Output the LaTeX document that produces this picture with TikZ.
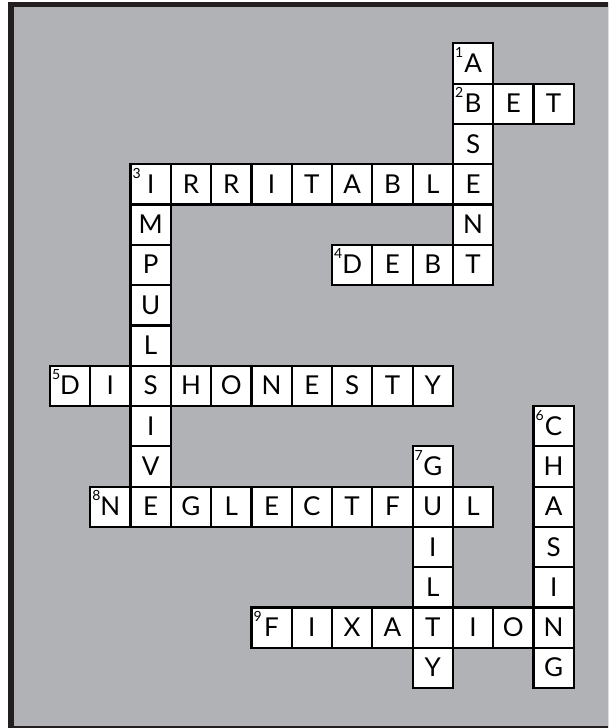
\documentclass[tikz,border=0pt]{standalone}
\usepackage{fontspec}
\setmainfont{Lato}
\definecolor{panel}{RGB}{177,178,182}
\definecolor{framec}{RGB}{35,31,32}
\begin{document}
\begin{tikzpicture}[x=1pt,y=-1pt,
  cell/.style={draw=black, line width=2.2pt, fill=white, minimum size=40.3pt,
    inner sep=0pt, text height=18pt, text depth=0pt,
    font=\fontsize{26}{30}\selectfont},
  num/.style={anchor=north west, inner sep=0pt,
    font=\fontsize{14}{16}\selectfont, xshift=3pt, yshift=-5pt}]
\useasboundingbox (0,0) rectangle (608,728);
\fill[white] (0,0) rectangle (608,728);
\begin{scope}
  \clip (0,0) rectangle (608,728);
  \fill[framec] (8.3,1.8) rectangle (640,760);
  \fill[panel] (14,7.4) rectangle (640,726);
\end{scope}
\foreach \c/\r/\l in {
  8/0/A,
  8/1/B, 9/1/E, 10/1/T,
  8/2/S,
  0/3/I, 1/3/R, 2/3/R, 3/3/I, 4/3/T, 5/3/A, 6/3/B, 7/3/L, 8/3/E,
  0/4/M, 8/4/N,
  0/5/P, 5/5/D, 6/5/E, 7/5/B, 8/5/T,
  0/6/U,
  0/7/L,
  -2/8/D, -1/8/I, 0/8/S, 1/8/H, 2/8/O, 3/8/N, 4/8/E, 5/8/S, 6/8/T, 7/8/Y,
  0/9/I, 10/9/C,
  0/10/V, 7/10/G, 10/10/H,
  -1/11/N, 0/11/E, 1/11/G, 2/11/L, 3/11/E, 4/11/C, 5/11/T, 6/11/F, 7/11/U, 8/11/L, 10/11/A,
  7/12/I, 10/12/S,
  7/13/L, 10/13/I,
  3/14/F, 4/14/I, 5/14/X, 6/14/A, 7/14/T, 8/14/I, 9/14/O, 10/14/N,
  7/15/Y, 10/15/G} {
  \pgfmathtruncatemacro{\k}{\c+2}
  \node[cell] (cell\r-\k) at ({130.5+40.3*(\c+0.5)},{43.3+40.3*(\r+0.5)}) {\l};
}
\foreach \name/\n in {cell0-10/1, cell1-10/2, cell3-2/3, cell5-7/4, cell8-0/5,
  cell9-12/6, cell10-9/7, cell11-1/8, cell14-5/9} {
  \node[num] (num\n) at (\name.north west) {\n};
}
\end{tikzpicture}
\end{document}
